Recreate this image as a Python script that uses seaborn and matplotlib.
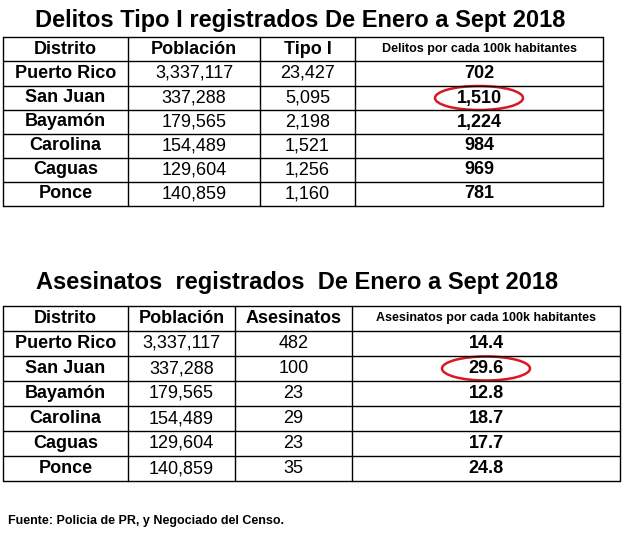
import matplotlib
matplotlib.use("Agg")
import matplotlib.pyplot as plt
from matplotlib.patches import Ellipse
import seaborn as sns

sns.set_theme(style="white", font="Liberation Sans",
              rc={"text.color": "black"})

distritos = ["Puerto Rico", "San Juan", "Bayamón", "Carolina", "Caguas", "Ponce"]
poblacion = ["3,337,117", "337,288", "179,565", "154,489", "129,604", "140,859"]
tipo1 = ["23,427", "5,095", "2,198", "1,521", "1,256", "1,160"]
tasa1 = ["702", "1,510", "1,224", "984", "969", "781"]
asesinatos = ["482", "100", "23", "29", "23", "35"]
tasa2 = ["14.4", "29.6", "12.8", "18.7", "17.7", "24.8"]
headers1 = ["Distrito", "Población", "Tipo I", "Delitos por cada 100k habitantes"]
headers2 = ["Distrito", "Población", "Asesinatos", "Asesinatos por cada 100k habitantes"]

fig = plt.figure(figsize=(6.28, 5.35), dpi=100)
ax = fig.add_axes([0, 0, 1, 1])
ax.set_xlim(0, 628); ax.set_ylim(535, 0); ax.axis("off")

def table(cols_x, rows_y, headers, columns, circled_row):
    for x in cols_x:
        ax.plot([x, x], [rows_y[0], rows_y[-1]], color="black", lw=1)
    for y in rows_y:
        ax.plot([cols_x[0], cols_x[-1]], [y, y], color="black", lw=1)
    for c, h in enumerate(headers):
        cx = (cols_x[c] + cols_x[c+1]) / 2
        fs = 9 if c == 3 else 13
        ax.text(cx, (rows_y[0]+rows_y[1])/2, h, ha="center", va="center",
                fontsize=fs, fontweight="bold", color="black")
        for r, v in enumerate(columns[c]):
            cy = (rows_y[r+1]+rows_y[r+2])/2
            bold = c in (0, 3)
            ax.text(cx, cy, v, ha="center", va="center", fontsize=13,
                    fontweight="bold" if bold else "normal", color="black")
    cx = (cols_x[3] + cols_x[4]) / 2
    cy = (rows_y[circled_row+1]+rows_y[circled_row+2])/2
    ax.add_patch(Ellipse((cx, cy), 88, 24, fill=False,
                         edgecolor="#d71920", lw=1.8))

ax.text(300, 20, "Delitos Tipo I registrados De Enero a Sept 2018", ha="center",
        va="center", fontsize=17, fontweight="bold", color="black")
table([3, 128, 260, 355, 603], [37, 61, 86, 110, 134, 158, 182, 206],
      headers1, [distritos, poblacion, tipo1, tasa1], 1)

ax.text(297, 283, "Asesinatos  registrados  De Enero a Sept 2018", ha="center",
        va="center", fontsize=17, fontweight="bold", color="black")
table([3, 128, 235, 352, 620], [306, 331, 356, 381, 406, 431, 456, 481],
      headers2, [distritos, poblacion, asesinatos, tasa2], 1)

ax.text(8, 521, "Fuente: Policia de PR, y Negociado del Censo.", ha="left",
        va="center", fontsize=9, fontweight="bold", color="black")

fig.savefig("out.png", dpi=100, facecolor="white")
